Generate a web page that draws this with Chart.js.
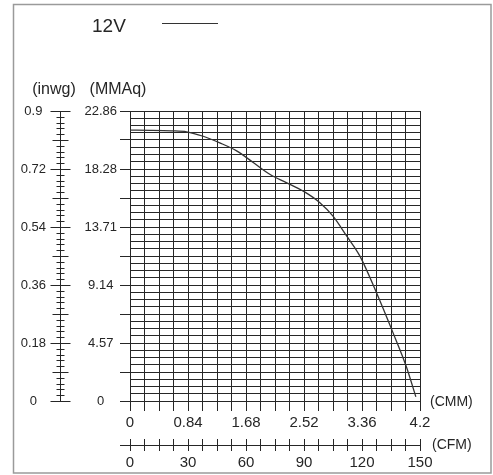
<!DOCTYPE html>
<html>
<head>
<meta charset="utf-8">
<script src="https://cdn.jsdelivr.net/npm/chart.js@4"></script>
<style>
  html, body { margin: 0; padding: 0; background: #fff; }
  canvas { display: block; }
</style>
</head>
<body>
<canvas id="fanChart" width="493" height="475"></canvas>
<script>
// 12V fan P-Q curve: airflow (CMM) vs static pressure (MMAq)
const seriesLabel = "12V";
const airflowCmm = [0, 0.3, 0.6, 0.82, 1.06, 1.3, 1.55, 1.79, 2.03, 2.27, 2.51, 2.75, 2.94, 3.14, 3.33, 3.57, 3.81, 4.0, 4.14];
const pressureMmaq = [21.35, 21.34, 21.3, 21.22, 20.87, 20.35, 19.7, 18.78, 17.85, 17.2, 16.54, 15.63, 14.57, 12.99, 11.42, 8.53, 5.37, 2.74, 0.33];

// axis labels (every labelled tick), and how many small steps sit between two labels
const cmmLabels = ["0", "0.84", "1.68", "2.52", "3.36", "4.2"];
const cfmLabels = ["0", "30", "60", "90", "120", "150"];
const mmaqLabels = ["0", "4.57", "9.14", "13.71", "18.28", "22.86"];
const inwgLabels = ["0", "0.18", "0.36", "0.54", "0.72", "0.9"];
const cmmSteps = 4, cfmSteps = 4, mmaqSteps = 8, inwgSteps = 10;

const ink = "#262626";
const font = "'Liberation Sans', Arial, sans-serif";

const lastOf = (arr) => parseFloat(arr[arr.length - 1]);
const cmmMax = lastOf(cmmLabels), cfmMax = lastOf(cfmLabels);
const mmaqMax = lastOf(mmaqLabels), inwgMax = lastOf(inwgLabels);

function evenTicks(max, n) {
  return Array.from({ length: n + 1 }, (_, i) => ({ value: max * i / n }));
}

function labelEvery(labels, steps) {
  return (value, index) => (index % steps === 0 ? labels[index / steps] : "");
}

// things the stock axes cannot draw: crossing ticks, unit captions, legend, frame
const extras = {
  id: "extras",
  beforeDraw(chart) {
    const ctx = chart.ctx;
    ctx.save();
    ctx.fillStyle = "#fff";
    ctx.fillRect(0, 0, chart.width, chart.height);
    ctx.restore();
  },
  afterDraw(chart) {
    const ctx = chart.ctx;
    const { x, xCfm, yInwg } = chart.scales;
    ctx.save();
    ctx.strokeStyle = ink;
    ctx.lineWidth = 1;

    // inwg ruler
    const n = inwgSteps * (inwgLabels.length - 1);
    const ax = Math.round(yInwg.right - 18) + 0.5;
    ctx.beginPath();
    ctx.moveTo(ax, yInwg.getPixelForValue(0));
    ctx.lineTo(ax, yInwg.getPixelForValue(inwgMax));
    for (let i = 0; i <= n; i++) {
      const py = Math.round(yInwg.getPixelForValue(inwgMax * i / n)) + 0.5;
      const half = i % inwgSteps === 0 ? 10 : i % (inwgSteps / 2) === 0 ? 8 : 4;
      ctx.moveTo(ax - half, py);
      ctx.lineTo(ax + half, py);
    }
    ctx.stroke();

    // CFM ruler line through the middle of its ticks
    const cy = Math.round(xCfm.top + 6) + 0.5;
    ctx.beginPath();
    ctx.moveTo(x.left - 10, cy);
    ctx.lineTo(xCfm.getPixelForValue(cfmMax), cy);
    ctx.stroke();

    // unit captions
    ctx.fillStyle = ink;
    ctx.textBaseline = "middle";
    ctx.font = "16px " + font;
    ctx.textAlign = "center";
    ctx.fillText("(inwg)", 54, 90);
    ctx.fillText("(MMAq)", 118, 90);
    ctx.font = "14px " + font;
    ctx.textAlign = "left";
    ctx.fillText("(CMM)", x.right + 10, x.top + 1);
    ctx.fillText("(CFM)", x.right + 12, cy);

    // legend
    const ds = chart.data.datasets[0];
    ctx.font = "19px " + font;
    ctx.fillText(ds.label, 92, 27);
    ctx.strokeStyle = ds.borderColor;
    ctx.lineWidth = 1.2;
    ctx.beginPath();
    ctx.moveTo(162, 23.5);
    ctx.lineTo(218, 23.5);
    ctx.stroke();

    // outer frame
    ctx.strokeStyle = "#9a9a9a";
    ctx.lineWidth = 1.5;
    ctx.strokeRect(13.5, 4.5, 477.5, 468.5);
    ctx.restore();
  }
};

new Chart(document.getElementById("fanChart"), {
  type: "line",
  data: {
    datasets: [
      {
        label: seriesLabel,
        data: airflowCmm.map((v, i) => ({ x: v, y: pressureMmaq[i] })),
        borderColor: "#333",
        borderWidth: 1.3,
        pointRadius: 0,
        cubicInterpolationMode: "monotone",
        xAxisID: "x",
        yAxisID: "y",
      },
    ],
  },
  options: {
    responsive: false,
    animation: false,
    layout: { padding: { left: 0, right: 73, top: 111, bottom: 8 } },
    plugins: { legend: { display: false }, tooltip: { enabled: false } },
    scales: {
      x: {
        type: "linear",
        position: "bottom",
        weight: 0,
        min: 0,
        max: cmmMax,
        afterBuildTicks: (s) => { s.ticks = evenTicks(cmmMax, cmmSteps * (cmmLabels.length - 1)); },
        afterFit: (s) => { s.height = 38; },
        ticks: {
          autoSkip: false,
          maxRotation: 0,
          padding: 3,
          color: ink,
          font: { family: font, size: 15 },
          callback: labelEvery(cmmLabels, cmmSteps),
        },
        grid: { color: ink, lineWidth: 1, tickLength: 10, tickColor: ink },
        border: { color: ink },
      },
      xCfm: {
        type: "linear",
        position: "bottom",
        weight: 1,
        min: 0,
        max: cfmMax,
        afterBuildTicks: (s) => { s.ticks = evenTicks(cfmMax, cfmSteps * (cfmLabels.length - 1)); },
        afterFit: (s) => { s.height = 28; },
        ticks: {
          autoSkip: false,
          maxRotation: 0,
          padding: 3,
          color: ink,
          font: { family: font, size: 15 },
          callback: labelEvery(cfmLabels, cfmSteps),
        },
        grid: { drawOnChartArea: false, tickLength: 12, tickColor: ink },
        border: { display: false },
      },
      y: {
        type: "linear",
        position: "left",
        weight: 0,
        min: 0,
        max: mmaqMax,
        afterBuildTicks: (s) => { s.ticks = evenTicks(mmaqMax, mmaqSteps * (mmaqLabels.length - 1)); },
        afterFit: (s) => { s.width = 52; },
        ticks: {
          autoSkip: false,
          padding: 3,
          crossAlign: "center",
          color: ink,
          font: { family: font, size: 13 },
          callback: labelEvery(mmaqLabels, mmaqSteps),
        },
        grid: {
          color: ink,
          lineWidth: 1,
          tickLength: 10,
          tickColor: (c) => (c.index % (mmaqSteps / 2) === 0 ? ink : "rgba(0,0,0,0)"),
        },
        border: { color: ink },
      },
      yInwg: {
        type: "linear",
        position: "left",
        weight: 1,
        min: 0,
        max: inwgMax,
        afterBuildTicks: (s) => { s.ticks = evenTicks(inwgMax, inwgLabels.length - 1); },
        afterFit: (s) => { s.width = 78; },
        ticks: {
          autoSkip: false,
          padding: 32,
          crossAlign: "center",
          color: ink,
          font: { family: font, size: 13 },
          callback: (value, index) => inwgLabels[index],
        },
        grid: { display: false, drawTicks: false },
        border: { display: false },
      },
    },
  },
  plugins: [extras],
});
</script>
</body>
</html>
